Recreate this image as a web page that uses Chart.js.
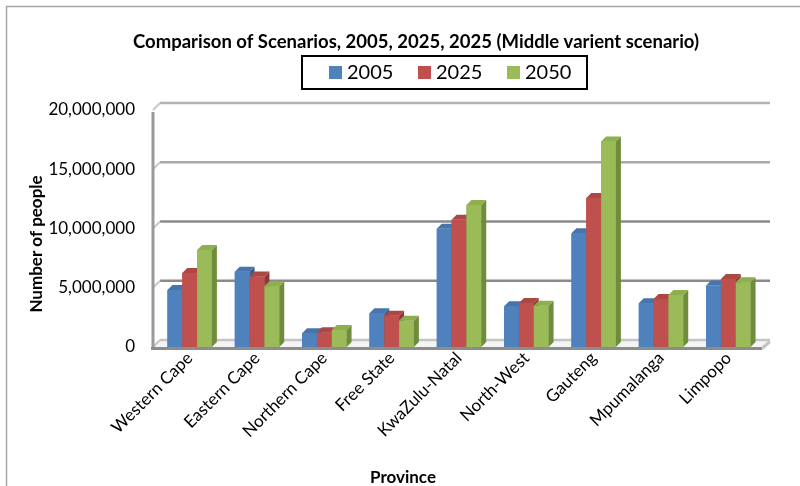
<!DOCTYPE html>
<html>
<head>
<meta charset="utf-8">
<script src="https://cdn.jsdelivr.net/npm/chart.js@4/dist/chart.umd.min.js"></script>
<style>
  html, body { margin: 0; padding: 0; background: #fff; }
  canvas { display: block; }
</style>
</head>
<body>
<canvas id="provinceChart" width="800" height="486"></canvas>
<script>
const provinces = ['Western Cape', 'Eastern Cape', 'Northern Cape', 'Free State', 'KwaZulu-Natal',
  'North-West', 'Gauteng', 'Mpumalanga', 'Limpopo'];
const seriesNames = ['2005', '2025', '2050'];
const pop2005 = [4810000, 6360000, 1160000, 2850000, 9970000, 3440000, 9600000, 3690000, 5180000];
const pop2025 = [6250000, 5940000, 1240000, 2640000, 10730000, 3720000, 12580000, 4050000, 5740000];
const pop2050 = [8190000, 5130000, 1440000, 2220000, 11990000, 3490000, 17350000, 4390000, 5460000];
const yTicks = [0, 5000000, 10000000, 15000000, 20000000];

const chartTitle = 'Comparison of Scenarios, 2005, 2025, 2025 (Middle varient scenario)';
const yTitle = 'Number of people';
const xTitle = 'Province';

// front / side / top shades for each series
const faceColors = [
  { front: '#4f81bd', side: '#385d8a', top: '#4674ab' },
  { front: '#c0504d', side: '#8c3a38', top: '#ad4744' },
  { front: '#9bbb59', side: '#6f8b3c', top: '#8eaf4e' }
];
const gridColors = ['#c4c4c4', '#8a8a8a', '#8a8a8a', '#a8a8a8', '#b2b2b2'];

const FONT = 'Lato, "Open Sans", sans-serif';
const DEPTH_X = 7, DEPTH_Y = 7;   // wall depth
const BAR_DX = 5, BAR_DY = 5;     // bar depth

const seriesValues = [pop2005, pop2025, pop2050];

const walls = {
  id: 'walls',
  beforeDraw(chart) {
    const ctx = chart.ctx;
    ctx.save();
    ctx.strokeStyle = '#a6a6a6';
    ctx.lineWidth = 1.5;
    ctx.strokeRect(6.5, 6.5, 820, 500);
    ctx.restore();
  },
  beforeDatasetsDraw(chart) {
    const ctx = chart.ctx;
    const y = chart.scales.y;
    const L = chart.chartArea.left - 3;
    const R = chart.chartArea.right;
    const B = y.getPixelForValue(0);
    ctx.save();
    // floor
    ctx.fillStyle = '#f4f4f4';
    ctx.beginPath();
    ctx.moveTo(L - 2, B + 1);
    ctx.lineTo(R, B + 1);
    ctx.lineTo(R + DEPTH_X + 1, B + 1 - DEPTH_Y);
    ctx.lineTo(L + DEPTH_X, B + 1 - DEPTH_Y);
    ctx.closePath();
    ctx.fill();
    // back wall grid lines and their left wall marks
    yTicks.forEach((v, i) => {
      const py = y.getPixelForValue(v);
      ctx.strokeStyle = gridColors[i];
      ctx.lineWidth = 2.5;
      ctx.beginPath();
      ctx.moveTo(L + DEPTH_X, py - DEPTH_Y);
      ctx.lineTo(R + DEPTH_X + 1, py - DEPTH_Y);
      ctx.stroke();
      ctx.strokeStyle = '#c8c8c8';
      ctx.lineWidth = 2;
      ctx.beginPath();
      ctx.moveTo(L, py);
      ctx.lineTo(L + DEPTH_X, py - DEPTH_Y);
      ctx.stroke();
    });
    // left wall edge
    ctx.strokeStyle = '#9a9a9a';
    ctx.lineWidth = 3;
    ctx.beginPath();
    ctx.moveTo(L, y.getPixelForValue(20000000) + 2);
    ctx.lineTo(L, B + 1);
    ctx.stroke();
    // floor front edge
    ctx.strokeStyle = '#8c8c8c';
    ctx.beginPath();
    ctx.moveTo(L - 2, B + 1.5);
    ctx.lineTo(R, B + 1.5);
    ctx.stroke();
    ctx.strokeStyle = '#c4c4c4';
    ctx.beginPath();
    ctx.moveTo(R, B + 1.5);
    ctx.lineTo(R + DEPTH_X + 1, B + 1.5 - DEPTH_Y);
    ctx.stroke();
    ctx.restore();
  },
  afterDatasetsDraw(chart) {
    const ctx = chart.ctx;
    const metas = chart.data.datasets.map((d, i) => chart.getDatasetMeta(i));
    ctx.save();
    provinces.forEach((p, j) => {
      metas.forEach((meta, i) => {
        const bar = meta.data[j];
        const { x, y, base, width } = bar.getProps(['x', 'y', 'base', 'width'], true);
        const l = x - width / 2, r = x + width / 2;
        const c = faceColors[i];
        ctx.fillStyle = c.front;
        ctx.fillRect(l, y, width, base - y);
        ctx.fillStyle = c.side;
        ctx.beginPath();
        ctx.moveTo(r, y);
        ctx.lineTo(r + BAR_DX, y - BAR_DY);
        ctx.lineTo(r + BAR_DX, base - BAR_DY);
        ctx.lineTo(r, base);
        ctx.closePath();
        ctx.fill();
        ctx.fillStyle = c.top;
        ctx.beginPath();
        ctx.moveTo(l, y);
        ctx.lineTo(r, y);
        ctx.lineTo(r + BAR_DX, y - BAR_DY);
        ctx.lineTo(l + BAR_DX, y - BAR_DY);
        ctx.closePath();
        ctx.fill();
      });
    });
    ctx.restore();
  },
  afterDraw(chart) {
    const ctx = chart.ctx;
    ctx.save();
    ctx.fillStyle = '#000';
    ctx.textAlign = 'center';
    ctx.textBaseline = 'middle';
    ctx.font = 'bold 18.5px ' + FONT;
    ctx.fillText(chartTitle, 416, 42);
    ctx.font = 'bold 17px ' + FONT;
    ctx.fillText(xTitle, 403, 478);
    ctx.save();
    ctx.translate(37, 244);
    ctx.rotate(-Math.PI / 2);
    ctx.fillText(yTitle, 0, 0);
    ctx.restore();

    // legend
    ctx.strokeStyle = '#000';
    ctx.lineWidth = 2;
    ctx.strokeRect(302, 56, 285, 33);
    ctx.font = '20px ' + FONT;
    ctx.textAlign = 'left';
    chart.data.datasets.forEach((ds, i) => {
      const bx = 329 + i * 89;
      ctx.fillStyle = ds.backgroundColor;
      ctx.fillRect(bx, 66, 13, 13);
      ctx.fillStyle = '#000';
      ctx.fillText(ds.label, bx + 18, 73);
    });
    ctx.restore();
  }
};

new Chart(document.getElementById('provinceChart'), {
  type: 'bar',
  data: {
    labels: provinces,
    datasets: seriesNames.map((name, i) => ({
      label: name,
      data: seriesValues[i],
      backgroundColor: faceColors[i].front,
      borderWidth: 0,
      categoryPercentage: 0.66,
      barPercentage: 1
    }))
  },
  options: {
    responsive: false,
    animation: false,
    devicePixelRatio: 1,
    layout: { padding: { left: 0, top: 110, right: 38, bottom: 0 } },
    plugins: {
      legend: { display: false },
      title: { display: false },
      tooltip: { enabled: false }
    },
    scales: {
      y: {
        min: 0,
        max: 20000000,
        afterFit: s => { s.width = 156; },
        afterBuildTicks: s => { s.ticks = yTicks.map(v => ({ value: v })); },
        grid: { display: false, drawTicks: false },
        border: { display: false },
        ticks: {
          padding: 21,
          color: '#000',
          font: { family: FONT, size: 17 },
          callback: v => v.toLocaleString('en-US')
        }
      },
      x: {
        afterFit: s => { s.height = 139; },
        grid: { display: false, drawTicks: false },
        border: { display: false },
        ticks: {
          padding: 1,
          minRotation: 45,
          maxRotation: 45,
          color: '#000',
          font: { family: FONT, size: 17 }
        }
      }
    }
  },
  plugins: [walls]
});
</script>
</body>
</html>
